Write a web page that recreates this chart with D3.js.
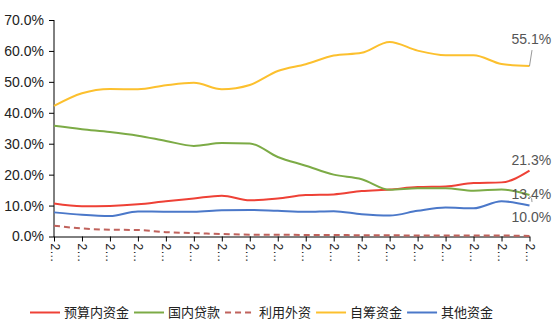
<!DOCTYPE html>
<html><head><meta charset="utf-8">
<script src="https://cdn.jsdelivr.net/npm/d3@7/dist/d3.min.js"></script>
<style>
html,body{margin:0;padding:0;background:#fff;}
svg{display:block;font-family:"Liberation Sans",Arial,"Noto Sans CJK SC",sans-serif;}
</style></head>
<body><svg id="c" width="557" height="329"></svg>
<script>
const categories = ["2003","2004","2005","2006","2007","2008","2009","2010","2011","2012","2013","2014","2015","2016","2017","2018","2019","2020"];
const seriesNames = ["预算内资金","国内贷款","利用外资","自筹资金","其他资金"];
const budgetFunds   = [10.7, 9.8, 9.9, 10.4, 11.4, 12.3, 13.2, 11.7, 12.3, 13.4, 13.6, 14.7, 15.2, 16.0, 16.2, 17.3, 17.5, 21.3];
const domesticLoans = [35.8, 34.7, 33.8, 32.6, 30.9, 29.3, 30.2, 30.1, 25.7, 22.9, 20.0, 18.5, 15.1, 15.6, 15.6, 14.8, 15.2, 13.4];
const foreignFunds  = [3.5, 2.6, 2.2, 2.1, 1.4, 1.1, 0.8, 0.6, 0.6, 0.5, 0.5, 0.4, 0.4, 0.3, 0.3, 0.3, 0.3, 0.2];
const selfRaised    = [42.2, 46.3, 47.7, 47.6, 48.9, 49.7, 47.6, 49.0, 53.5, 55.7, 58.5, 59.4, 62.9, 60.1, 58.6, 58.6, 55.8, 55.1];
const otherFunds    = [7.8, 7.0, 6.6, 8.1, 8.0, 8.0, 8.5, 8.6, 8.3, 8.0, 8.2, 7.2, 6.8, 8.3, 9.4, 9.1, 11.4, 10.0];
const yTicks = [0, 10, 20, 30, 40, 50, 60, 70];

const colors = ["#ee4136", "#7cab46", "#c0625c", "#fcc02e", "#4b78c9"];
const dashes = [null, null, "6,4", null, null];
const values = [budgetFunds, domesticLoans, foreignFunds, selfRaised, otherFunds];
const endLabel = [true, true, false, true, true];
// label vertical offset from last point (layout only)
const labelDy = [-10.5, -0.5, 0, -26.5, 11.5];

const svg = d3.select("#c");
const mLeft = 54, mRight = 529.5, mTop = 20, mBottom = 236.5;

const x = d3.scalePoint().domain(categories).range([mLeft, mRight]);
const y = d3.scaleLinear().domain([0, 70]).range([mBottom, mTop]);

// y axis
const yAxis = svg.append("g").attr("transform", `translate(${mLeft},0)`)
  .call(d3.axisLeft(y).tickValues(yTicks).tickSize(5).tickPadding(5).tickFormat(d => d.toFixed(1) + "%"));
yAxis.select(".domain").attr("stroke", "#000").attr("d", `M0,${mBottom+0.5}V${mTop}`);
yAxis.selectAll(".tick line").attr("stroke", "#000");
yAxis.selectAll(".tick text").attr("fill", "#222").style("font-size", "14px")
  .style("font-family", '"Liberation Sans",Arial,sans-serif');

// x axis
const xAxis = svg.append("g").attr("transform", `translate(0,${mBottom})`)
  .call(d3.axisBottom(x).tickSize(5).tickSizeOuter(0).tickFormat(d => d.charAt(0) + "…"));
xAxis.select(".domain").attr("stroke", "#000");
xAxis.selectAll(".tick line").attr("stroke", "#000");
xAxis.selectAll(".tick text")
  .attr("fill", "#222").style("font-size", "12px")
  .attr("text-anchor", "start").attr("dy", null)
  .attr("transform", "translate(-4,7) rotate(90)")
  .attr("x", 0).attr("y", 0);

// lines
const line = d3.line().x((d, i) => x(categories[i])).y(d => y(d)).curve(d3.curveMonotoneX);
values.forEach((vals, k) => {
  svg.append("path").datum(vals)
    .attr("d", line)
    .attr("fill", "none")
    .attr("stroke", colors[k])
    .attr("stroke-width", 2)
    .attr("stroke-dasharray", dashes[k]);
});

// end labels
values.forEach((vals, k) => {
  if (!endLabel[k]) return;
  const v = vals[vals.length - 1];
  const px = x(categories[categories.length - 1]);
  const py = y(v);
  svg.append("text")
    .attr("x", px - 18).attr("y", py + labelDy[k])
    .attr("dy", "0.35em")
    .attr("fill", "#555").style("font-size", "14px")
    .text(v.toFixed(1) + "%");
});
// leader lines
{
  const px = x(categories[categories.length - 1]);
  svg.append("path").attr("d", `M${px},${y(selfRaised[17])}L${px+2.5},${y(selfRaised[17]) - 16}`)
    .attr("stroke", "#999").attr("fill", "none").attr("stroke-width", 1);
  svg.append("path").attr("d", `M${px},${y(domesticLoans[17])+1}Q${px+3},${y(domesticLoans[17])+3} ${px+2.5},${y(domesticLoans[17]) + 7}`)
    .attr("stroke", "#999").attr("fill", "none").attr("stroke-width", 1);
}

// legend
const legend = svg.append("g");
let lx = 30;
const ly = 312.5;
seriesNames.forEach((name, k) => {
  legend.append("line").attr("x1", lx).attr("x2", lx + 30).attr("y1", ly).attr("y2", ly)
    .attr("stroke", colors[k]).attr("stroke-width", 2).attr("stroke-dasharray", dashes[k]);
  const t = legend.append("text").attr("x", lx + 34).attr("y", ly).attr("dy", "0.36em")
    .attr("fill", "#222").style("font-size", "13px")
    .style("font-family", '"Noto Sans CJK SC",sans-serif').text(name);
  lx += 34 + t.node().getComputedTextLength() + 5;
});
</script></body></html>
